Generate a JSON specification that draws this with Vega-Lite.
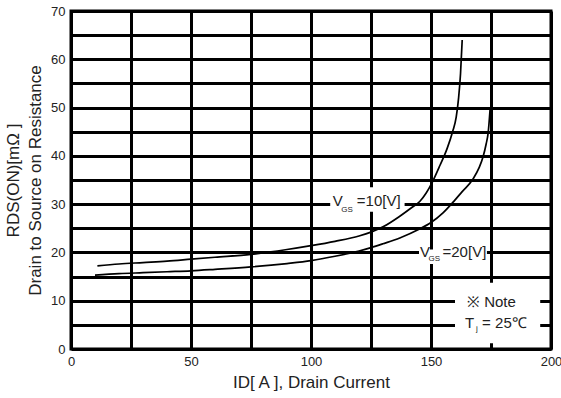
{
  "$schema": "https://vega.github.io/schema/vega-lite/v6.json",
  "width": 480,
  "height": 338,
  "autosize": {"type": "none"},
  "padding": {"left": 71, "top": 11, "right": 10, "bottom": 49},
  "background": "white",
  "config": {
    "view": {"stroke": "black", "strokeWidth": 3},
    "font": "Liberation Sans",
    "axis": {
      "grid": true, "gridColor": "black", "gridWidth": 3, "gridOpacity": 1,
      "domain": false, "ticks": false,
      "labelFont": "Liberation Sans", "labelFontSize": 13, "labelColor": "#222",
      "labelFlush": false, "labelOverlap": false,
      "titleFont": "Liberation Sans", "titleFontWeight": "normal", "titleFontSize": 17, "titleColor": "#222"
    }
  },
  "datasets": {
    "curves": [
      {"x": 11, "y": 17.2, "vgs": "10"}, {"x": 20, "y": 17.6, "vgs": "10"}, {"x": 30, "y": 17.9, "vgs": "10"},
      {"x": 40, "y": 18.2, "vgs": "10"}, {"x": 50, "y": 18.6, "vgs": "10"}, {"x": 60, "y": 19.0, "vgs": "10"},
      {"x": 75, "y": 19.6, "vgs": "10"}, {"x": 90, "y": 20.6, "vgs": "10"}, {"x": 100, "y": 21.4, "vgs": "10"},
      {"x": 110, "y": 22.3, "vgs": "10"}, {"x": 120, "y": 23.4, "vgs": "10"}, {"x": 125, "y": 24.2, "vgs": "10"},
      {"x": 130, "y": 25.3, "vgs": "10"}, {"x": 137, "y": 27.5, "vgs": "10"}, {"x": 142, "y": 29.3, "vgs": "10"},
      {"x": 145.4, "y": 30.6, "vgs": "10"}, {"x": 148, "y": 32.3, "vgs": "10"}, {"x": 150.4, "y": 34.4, "vgs": "10"},
      {"x": 153.8, "y": 38.1, "vgs": "10"}, {"x": 156.7, "y": 41.5, "vgs": "10"}, {"x": 159, "y": 45, "vgs": "10"},
      {"x": 160.5, "y": 48, "vgs": "10"}, {"x": 161.5, "y": 52, "vgs": "10"}, {"x": 162.3, "y": 57, "vgs": "10"},
      {"x": 163, "y": 64, "vgs": "10"},
      {"x": 10, "y": 15.3, "vgs": "20"}, {"x": 20, "y": 15.6, "vgs": "20"}, {"x": 30, "y": 15.8, "vgs": "20"},
      {"x": 40, "y": 16.0, "vgs": "20"}, {"x": 50, "y": 16.2, "vgs": "20"}, {"x": 60, "y": 16.5, "vgs": "20"},
      {"x": 75, "y": 17.0, "vgs": "20"}, {"x": 90, "y": 17.7, "vgs": "20"}, {"x": 100, "y": 18.3, "vgs": "20"},
      {"x": 110, "y": 19.2, "vgs": "20"}, {"x": 120, "y": 20.3, "vgs": "20"}, {"x": 125, "y": 21.0, "vgs": "20"},
      {"x": 130, "y": 21.8, "vgs": "20"}, {"x": 137, "y": 23.0, "vgs": "20"}, {"x": 145, "y": 24.8, "vgs": "20"},
      {"x": 150, "y": 26.2, "vgs": "20"}, {"x": 155, "y": 28.2, "vgs": "20"}, {"x": 159, "y": 30.3, "vgs": "20"},
      {"x": 163, "y": 32.6, "vgs": "20"}, {"x": 167.5, "y": 35.2, "vgs": "20"}, {"x": 170, "y": 37.5, "vgs": "20"},
      {"x": 171.7, "y": 39.8, "vgs": "20"}, {"x": 173, "y": 42.5, "vgs": "20"}, {"x": 173.8, "y": 44.7, "vgs": "20"},
      {"x": 174.6, "y": 49.5, "vgs": "20"}
    ],
    "boxes": [
      {"x": 108, "x2": 139, "y": 28.4, "y2": 33.5},
      {"x": 145, "x2": 173.3, "y": 17.6, "y2": 20.6},
      {"x": 160, "x2": 195.5, "y": 1.2, "y2": 13.7}
    ],
    "labels": [
      {"x": 109.1, "y": 30.7, "t": "V"},
      {"x": 119.1, "y": 30.7, "t": "=10[V]"},
      {"x": 145.4, "y": 20.1, "t": "V"},
      {"x": 154.8, "y": 20.1, "t": "=20[V]"},
      {"x": 165, "y": 9.7, "t": "※ Note"},
      {"x": 164.2, "y": 5.4, "t": "T"},
      {"x": 171.3, "y": 5.4, "t": "= 25℃"}
    ],
    "subs": [
      {"x": 112.6, "y": 28.7, "t": "GS"},
      {"x": 149.0, "y": 18.6, "t": "GS"},
      {"x": 168.8, "y": 4.2, "t": "j"}
    ]
  },
  "encoding": {
    "x": {
      "field": "x", "type": "quantitative",
      "scale": {"domain": [0, 200], "nice": false, "zero": false},
      "axis": {
        "title": "ID[ A ], Drain Current",
        "values": [0, 25, 50, 75, 100, 125, 150, 175, 200],
        "labelExpr": "datum.value % 50 == 0 ? datum.label : ''",
        "labelPadding": 6, "titlePadding": 6
      }
    },
    "y": {
      "field": "y", "type": "quantitative",
      "scale": {"domain": [0, 70], "nice": false, "zero": false},
      "axis": {
        "title": ["RDS(ON)[mΩ ]", "Drain to Source on Resistance"],
        "values": [0, 5, 10, 15, 20, 25, 30, 35, 40, 45, 50, 55, 60, 65, 70],
        "labelExpr": "datum.value % 10 == 0 ? datum.label : ''",
        "labelPadding": 6, "titlePadding": 6, "titleLineHeight": 22
      }
    }
  },
  "layer": [
    {
      "data": {"name": "boxes"},
      "mark": {"type": "rect", "color": "white"},
      "encoding": {"x2": {"field": "x2"}, "y2": {"field": "y2"}}
    },
    {
      "data": {"name": "curves"},
      "mark": {"type": "line", "color": "black", "strokeWidth": 1.7, "interpolate": "monotone"},
      "encoding": {"detail": {"field": "vgs", "type": "nominal"}}
    },
    {
      "data": {"name": "labels"},
      "mark": {"type": "text", "align": "left", "baseline": "middle", "fontSize": 15, "color": "#222", "font": "Liberation Sans"},
      "encoding": {"text": {"field": "t"}}
    },
    {
      "data": {"name": "subs"},
      "mark": {"type": "text", "align": "left", "baseline": "middle", "fontSize": 8, "color": "#222", "font": "Liberation Sans"},
      "encoding": {"text": {"field": "t"}}
    }
  ]
}
